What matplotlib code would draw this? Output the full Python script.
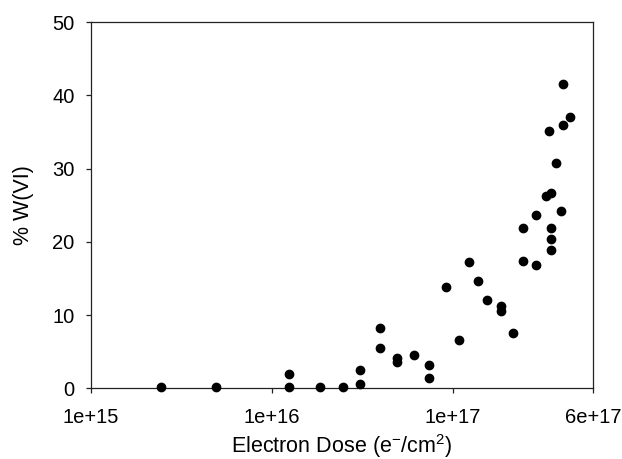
import matplotlib
matplotlib.use("Agg")
import matplotlib.pyplot as plt
from matplotlib.ticker import FixedLocator, FixedFormatter, NullLocator

plt.rcParams['font.family'] = ['Liberation Sans', 'DejaVu Sans']
plt.rcParams['mathtext.fontset'] = 'custom'
plt.rcParams['mathtext.rm'] = 'Liberation Sans'
plt.rcParams['mathtext.it'] = 'Liberation Sans'

# electron dose (e-/cm^2) and fraction of W(VI) (%)
dose = [2.46e15, 4.94e15, 1.24e16, 1.24e16, 1.86e16, 2.47e16, 3.08e16, 3.08e16,
        3.95e16, 3.95e16, 4.93e16, 4.93e16, 6.15e16, 7.38e16, 7.38e16, 9.23e16,
        1.08e17, 1.23e17, 1.39e17, 1.54e17, 1.85e17, 1.85e17, 2.16e17, 2.46e17,
        2.46e17, 2.88e17, 2.88e17, 3.28e17, 3.50e17, 3.40e17, 3.50e17, 3.50e17,
        3.50e17, 3.72e17, 3.99e17, 4.07e17, 4.07e17, 4.46e17]
w6 = [0.2, 0.2, 2.0, 0.2, 0.2, 0.2, 2.5, 0.6,
      8.3, 5.5, 4.1, 3.6, 4.6, 3.2, 1.4, 13.8,
      6.6, 17.3, 14.7, 12.1, 11.2, 10.5, 7.5, 21.9,
      17.4, 23.6, 16.8, 26.3, 26.7, 35.1, 21.9, 20.4,
      18.9, 30.7, 24.2, 41.5, 35.9, 37.0]

x_ticks = [1e15, 1e16, 1e17, 6e17]
x_tick_labels = ['1e+15', '1e+16', '1e+17', '6e+17']
y_ticks = [0, 10, 20, 30, 40, 50]

fig = plt.figure(figsize=(6.22, 4.59), dpi=100)
ax = fig.add_axes([0.1457, 0.154, 0.8084, 0.798])

ax.scatter(dose, w6, s=36, color='black', zorder=3, clip_on=False)

ax.set_xscale('log')
ax.set_xlim(1e15, 6e17)
ax.set_ylim(0, 50)
ax.xaxis.set_major_locator(FixedLocator(x_ticks))
ax.xaxis.set_major_formatter(FixedFormatter(x_tick_labels))
ax.xaxis.set_minor_locator(NullLocator())
ax.set_yticks(y_ticks)

for sp in ax.spines.values():
    sp.set_color('#222222')
    sp.set_linewidth(0.9)
ax.tick_params(axis='both', direction='out', length=3.5, width=0.9,
               color='#222222', labelsize=14.5)
ax.tick_params(axis='x', pad=11)
ax.tick_params(axis='y', pad=8)

ax.set_xlabel('Electron Dose (e$^{-}$/cm$^{2}$)', fontsize=15.5, labelpad=3.5)
ax.set_ylabel('% W(VI)', fontsize=15.5, labelpad=13)

fig.savefig('out.png', dpi=100)
